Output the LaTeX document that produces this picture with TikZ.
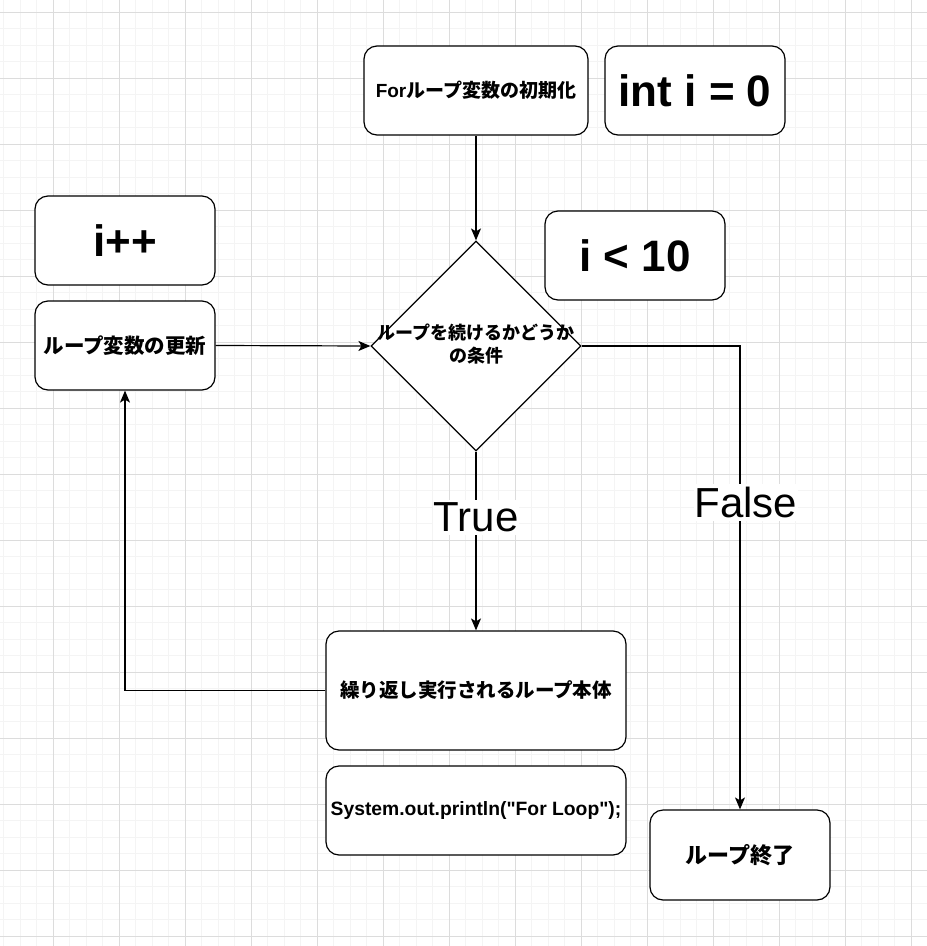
\documentclass[tikz,border=0pt]{standalone}
\usepackage{fontspec}
\setmainfont{Liberation Sans}
\setmonofont{Liberation Sans}
\newfontfamily\cjk{Noto Sans CJK JP}
\usetikzlibrary{shapes.geometric,arrows.meta}
\newcommand{\fsz}[1]{\fontsize{#1}{#1}\selectfont}
\tikzset{
  minorgrid/.style={draw={rgb,255:red,244;green,244;blue,244},line width=1pt},
  majorgrid/.style={draw={rgb,255:red,220;green,220;blue,220},line width=1pt},
  box/.style={draw,line width=1.2pt,rounded corners=13pt,fill=white,inner sep=0pt,align=center},
  arr/.style={draw,line width=1.2pt,-{Stealth[length=12pt,width=10pt,inset=3pt]}},
  lab/.style={fill=white,inner xsep=1pt,inner ysep=3pt,font=\fsz{42}},
  jp/.style={font=\cjk\bfseries\fsz{#1}},
  big/.style={font=\bfseries\fsz{44}}
}
\begin{document}
\begin{tikzpicture}[x=1pt,y=-1pt]
\useasboundingbox (0,0) rectangle (927,946);
\fill[white] (0,0) rectangle (927,946);
% grid
\foreach \k in {0,...,56} {
  \draw[minorgrid] (3.5+16.5*\k,0) -- ++(0,946);
  \draw[minorgrid] (0,12+16.5*\k) -- ++(927,0);
}
\foreach \k in {0,...,13} {\draw[majorgrid] (53+66*\k,0) -- ++(0,946);}
\foreach \k in {0,...,14} {\draw[majorgrid] (0,12+66*\k) -- ++(927,0);}
% nodes
\node[box,minimum width=224pt,minimum height=89pt,jp=19] (init) at (476,90.5) {{\rmfamily\bfseries For}ループ変数の初期化};
\node[box,minimum width=180pt,minimum height=89pt,big] (intz) at (695,90.5) {int i = 0};
\node[box,minimum width=180pt,minimum height=89pt,big] (ipp) at (125,240.5) {i++};
\node[box,minimum width=180pt,minimum height=89pt,big] (ilt) at (635,255.5) {i < 10};
\node[box,minimum width=180pt,minimum height=89pt,jp=20.5] (upd) at (125,345.5) {ループ変数の更新};
\node[draw,line width=1.2pt,diamond,fill=white,minimum width=210pt,minimum height=210pt,inner sep=0pt] (dia) at (476,346) {};
\node[align=center,font=\cjk\bfseries\fontsize{18}{23}\selectfont] (diat) at (476,344.5) {ループを続けるかどうか\\の条件};
\node[box,minimum width=300pt,minimum height=119pt,jp=19.5] (body) at (476,690.5) {繰り返し実行されるループ本体};
\node[box,minimum width=300pt,minimum height=89pt,font=\ttfamily\bfseries\fsz{19.3}] (prn) at (476,810.5) {System.out.println("For Loop");};
\node[box,minimum width=180pt,minimum height=90pt,jp=22] (endn) at (740,855) {ループ終了};
% connectors
\draw[arr] (init.south) -- (dia.north);
\draw[arr] (upd.east) -- (dia.west);
\draw[arr] (dia.south) -- node[lab,pos=0.367] {True} (body.north);
\draw[arr] (dia.east) -| node[lab,pos=0.669,xshift=6pt] {False} (endn.north);
\draw[arr] (body.west) -| (upd.south);
\end{tikzpicture}
\end{document}
